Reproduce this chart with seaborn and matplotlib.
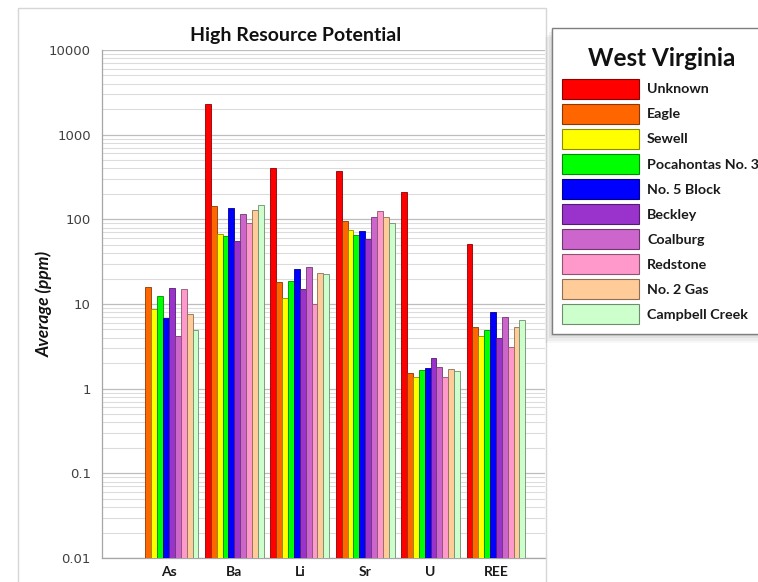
import numpy as np
import pandas as pd
import matplotlib
matplotlib.use("Agg")
import matplotlib.pyplot as plt
import matplotlib.colors as mcolors
from matplotlib.patches import Patch, Rectangle
from matplotlib.ticker import FixedLocator, LogLocator, NullFormatter
import seaborn as sns

# ---- data ---------------------------------------------------------------
elements = ["As", "Ba", "Li", "Sr", "U", "REE"]
seams = ["Unknown", "Eagle", "Sewell", "Pocahontas No. 3", "No. 5 Block",
         "Beckley", "Coalburg", "Redstone", "No. 2 Gas", "Campbell Creek"]

unknown = [np.nan, 2300, 400, 375, 210, 51]
eagle = [16, 143, 18.2, 96, 1.55, 5.4]
sewell = [8.7, 68, 11.9, 75, 1.38, 4.2]
pocahontas_3 = [12.4, 64, 18.5, 66, 1.67, 4.9]
no5_block = [6.9, 135, 26, 73, 1.75, 8.0]
beckley = [15.3, 56, 15, 58, 2.32, 4.0]
coalburg = [4.2, 117, 27, 108, 1.82, 7.1]
redstone = [15, 90, 10, 124, 1.38, 3.1]
no2_gas = [7.6, 128, 23, 106, 1.72, 5.3]
campbell_creek = [4.9, 146, 22.4, 90, 1.62, 6.4]

series = [unknown, eagle, sewell, pocahontas_3, no5_block,
          beckley, coalburg, redstone, no2_gas, campbell_creek]

colors = ["#FF0000", "#FF6600", "#FFFF00", "#00FF00", "#0000FF",
          "#9933CC", "#CC66CC", "#FF99CC", "#FFCC99", "#CCFFCC"]

ytick_values = [0.01, 0.1, 1, 10, 100, 1000, 10000]
ytick_labels = ["0.01", "0.1", "1", "10", "100", "1000", "10000"]

rows = []
for seam, vals in zip(seams, series):
    for el, v in zip(elements, vals):
        rows.append({"Element": el, "Seam": seam, "Value": v})
df = pd.DataFrame(rows)


def darker(c, f=0.55):
    r, g, b = mcolors.to_rgb(c)
    return (r * f, g * f, b * f)


# ---- figure -------------------------------------------------------------
sns.set_style("white")
plt.rcParams["font.family"] = ["Lato", "DejaVu Sans"]

W, H = 758, 582
fig = plt.figure(figsize=(W / 100, H / 100), dpi=100)
fig.patch.set_facecolor("white")

ax_l, ax_r, ax_t, ax_b = 102, 545, 50, 558
ax = fig.add_axes([ax_l / W, 1 - ax_b / H, (ax_r - ax_l) / W, (ax_b - ax_t) / H])

sns.barplot(data=df, x="Element", y="Value", hue="Seam",
            order=elements, hue_order=seams, palette=colors,
            width=0.9, gap=0, saturation=1, errorbar=None,
            log_scale=True, legend=False, ax=ax, zorder=3)

for cont, col in zip(ax.containers, colors):
    for bar in cont:
        bar.set_edgecolor(darker(col))
        bar.set_linewidth(0.6)

ax.set_yscale("log")
ax.set_ylim(0.01, 10000)
ax.set_xlim(-1.024, 5.75)

ax.yaxis.set_major_locator(FixedLocator(ytick_values))
ax.set_yticklabels(ytick_labels)
ax.yaxis.set_minor_locator(LogLocator(base=10, subs=np.arange(2, 10)))
ax.yaxis.set_minor_formatter(NullFormatter())

ax.grid(True, which="major", axis="y", color="#BDBDBD", linewidth=0.9, zorder=0)
ax.grid(True, which="minor", axis="y", color="#DCDCDC", linewidth=0.8, zorder=0)
ax.set_axisbelow(True)

for s in ["top", "right"]:
    ax.spines[s].set_visible(False)
for s in ["left", "bottom"]:
    ax.spines[s].set_color("#A6A6A6")
    ax.spines[s].set_linewidth(0.9)

ax.tick_params(axis="y", which="major", direction="out", length=3, width=0.8,
               color="#A6A6A6", pad=5)
ax.tick_params(axis="y", which="minor", direction="out", length=2, width=0.6,
               color="#BDBDBD")
ax.tick_params(axis="x", length=0, pad=6)
for t in ax.get_yticklabels():
    t.set_fontfamily("DejaVu Sans")
    t.set_fontsize(9.5)
    t.set_color("#404040")
for t in ax.get_xticklabels():
    t.set_fontweight("bold")
    t.set_fontsize(10)
    t.set_color("#1a1a1a")

ax.set_xlabel("")
ax.set_ylabel("")

fig.text(296 / W, 1 - 36 / H, "High Resource Potential", ha="center", va="center",
         fontsize=14, fontweight="bold", color="#111111")
fig.text(44 / W, 1 - 304 / H, "Average (ppm)", ha="center", va="center",
         rotation=90, fontsize=12.5, fontweight="bold", fontstyle="italic",
         color="#111111")

# chart area border
fig.add_artist(Rectangle((18 / W, -0.05), (546 - 18) / W, 1 - 8 / H + 0.05,
                         transform=fig.transFigure, fill=False,
                         edgecolor="#D6D6D6", linewidth=1, zorder=2))

# ---- legend box ---------------------------------------------------------
box_l, box_t, box_b = 552, 28, 334
# soft shadow, spread to the left and below the box
for d, a in [(7, 0.03), (5, 0.04), (3, 0.05), (1.5, 0.06)]:
    fig.add_artist(Rectangle(((box_l - d) / W, 1 - (box_b + d * 1.3) / H),
                             (W + 20 - box_l + d) / W, (box_b - box_t) / H,
                             transform=fig.transFigure, facecolor="black",
                             edgecolor="none", alpha=a, zorder=4))
fig.add_artist(Rectangle((box_l / W, 1 - box_b / H), (W + 20 - box_l) / W,
                         (box_b - box_t) / H, transform=fig.transFigure,
                         facecolor="white", edgecolor="#7F7F7F", linewidth=1.0,
                         zorder=5))
fig.text(662 / W, 1 - 58 / H, "West Virginia", ha="center", va="center",
         fontsize=17.5, fontweight="bold", color="#111111", zorder=7)

fs = 10.3
fs_px = fs * 100 / 72
hh = (19.5 / fs_px - 0.245) / 0.65
handles = [Patch(facecolor=c, edgecolor=darker(c), linewidth=0.8) for c in colors]
leg = fig.legend(handles, seams, loc="upper left",
                 bbox_to_anchor=(562 / W, 1 - 79 / H),
                 bbox_transform=fig.transFigure, borderaxespad=0,
                 frameon=False, fontsize=fs,
                 handlelength=77 / fs_px, handleheight=hh,
                 labelspacing=5.55 / fs_px, handletextpad=8 / fs_px,
                 borderpad=0)
leg.set_zorder(7)
for t in leg.get_texts():
    t.set_fontweight("bold")
    t.set_color("#1a1a1a")

fig.savefig("out.png", dpi=100)
